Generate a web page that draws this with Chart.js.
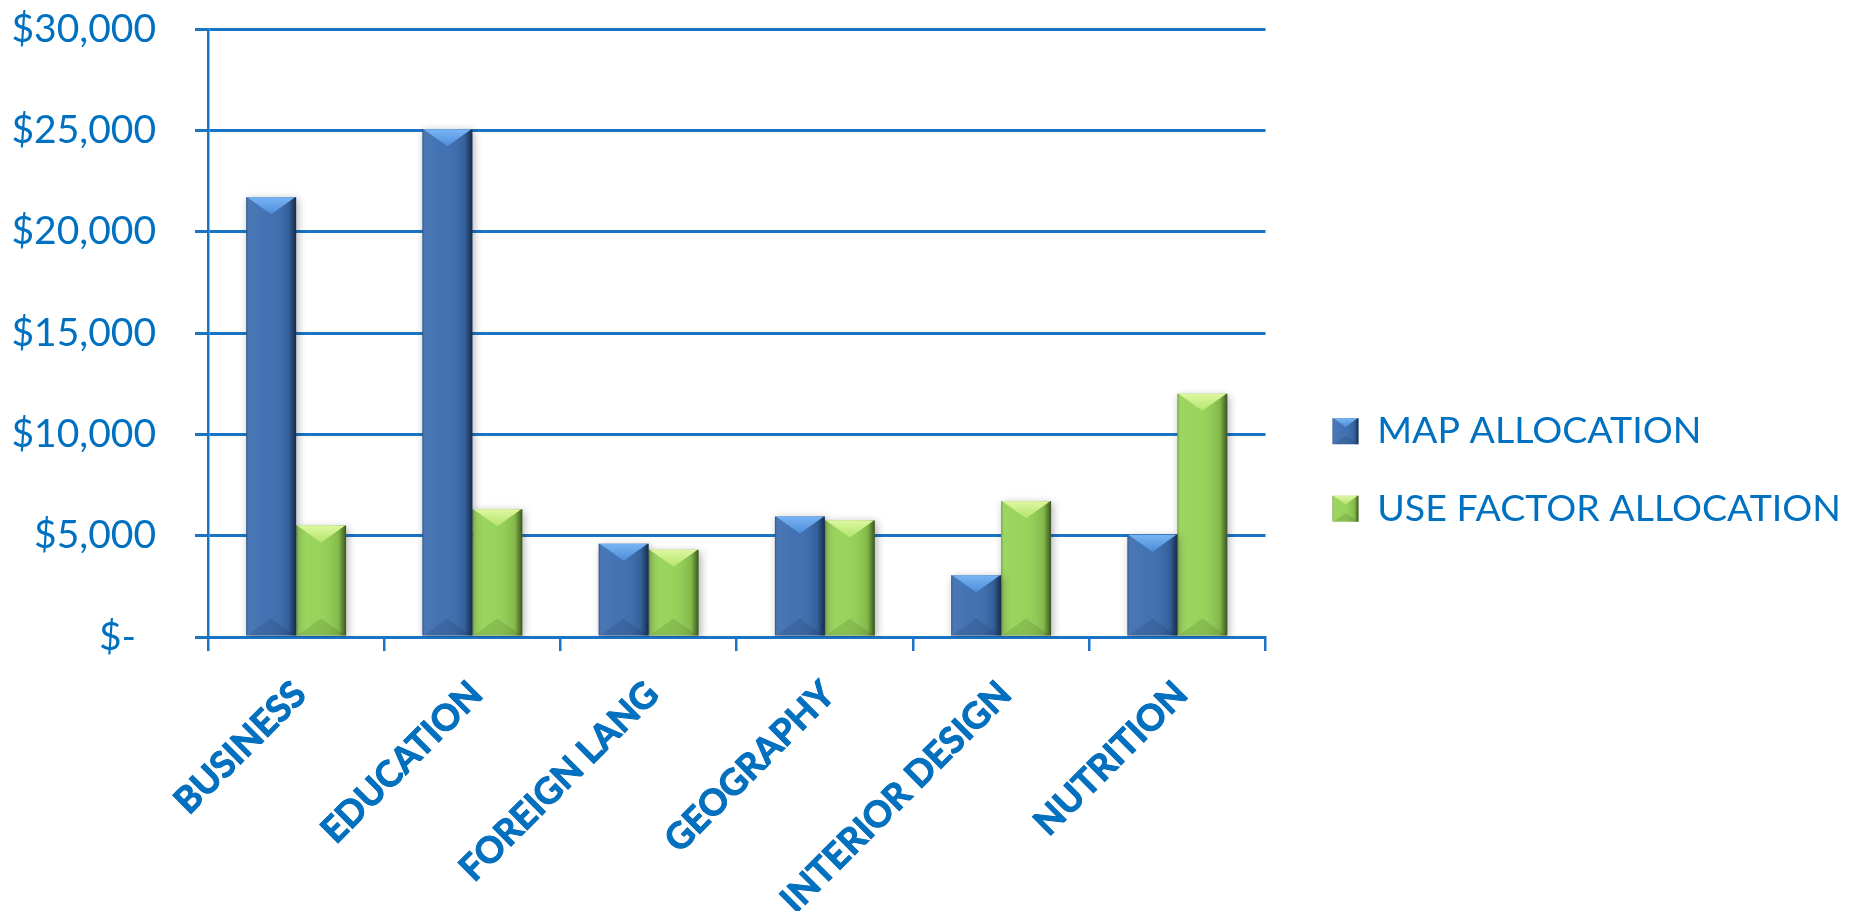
<!DOCTYPE html>
<html>
<head>
<meta charset="utf-8">
<script src="https://cdn.jsdelivr.net/npm/chart.js@4.4.1/dist/chart.umd.min.js"></script>
<style>
  html, body { margin: 0; padding: 0; background: #fff; }
  #wrap { width: 1855px; height: 921px; }
</style>
</head>
<body>
<div id="wrap"><canvas id="myChart" width="1855" height="921"></canvas></div>
<script>
const categories = ['BUSINESS', 'EDUCATION', 'FOREIGN LANG', 'GEOGRAPHY', 'INTERIOR DESIGN', 'NUTRITION'];
const mapAllocation = [21700, 25050, 4600, 5950, 3050, 5050];
const useFactorAllocation = [5500, 6300, 4300, 5750, 6700, 12000];
const seriesNames = ['MAP ALLOCATION', 'USE FACTOR ALLOCATION'];
const yMax = 30000;
const yStep = 5000;

const blue = '#0070C0';
const lineBlue = '#1A74C6';
const bevelColors = [
  { top: '#78B4F4', top2: '#4F8DDA' },
  { top: '#DDF7A0', top2: '#B4E56E' }
];

function fmtDollar(v) {
  if (v === 0) return '$-  ';
  return '$' + v.toLocaleString('en-US');
}

function drawBevel(c, l, t, w, h, col) {
  if (h <= 0) return;
  c.save();
  let g = c.createLinearGradient(l, 0, l + w, 0);
  g.addColorStop(0, 'rgba(0,0,0,0.25)');
  g.addColorStop(0.06, 'rgba(255,255,255,0.08)');
  g.addColorStop(0.45, 'rgba(255,255,255,0.04)');
  g.addColorStop(0.85, 'rgba(0,0,0,0.12)');
  g.addColorStop(1, 'rgba(0,0,0,0.6)');
  c.fillStyle = g;
  c.fillRect(l, t, w, h);

  const d = Math.min(w * 0.34, h / 2, 17);
  let tg = c.createLinearGradient(0, t, 0, t + d);
  tg.addColorStop(0, col.top);
  tg.addColorStop(1, col.top2);
  c.fillStyle = tg;
  c.beginPath();
  c.moveTo(l + 1, t);
  c.lineTo(l + w - 1, t);
  c.lineTo(l + w / 2, t + d);
  c.closePath();
  c.fill();

  c.fillStyle = 'rgba(0,0,0,0.10)';
  c.beginPath();
  c.moveTo(l + 1, t + h);
  c.lineTo(l + w - 1, t + h);
  c.lineTo(l + w / 2, t + h - d);
  c.closePath();
  c.fill();
  c.restore();
}

const bevelPlugin = {
  id: 'bevel',
  beforeDatasetsDraw(chart) {
    const c = chart.ctx;
    c.save();
    c.shadowColor = 'rgba(0,0,0,0.30)';
    c.shadowBlur = 8;
    c.shadowOffsetX = 2;
    c.shadowOffsetY = 2;
  },
  afterDatasetsDraw(chart) {
    const c = chart.ctx;
    c.restore();
    chart.data.datasets.forEach((ds, i) => {
      const meta = chart.getDatasetMeta(i);
      meta.data.forEach(bar => {
        const p = bar.getProps(['x', 'y', 'width', 'base'], true);
        drawBevel(c, p.x - p.width / 2, p.y, p.width, p.base - p.y, bevelColors[i]);
      });
    });
  },
  afterDraw(chart) {
    const lg = chart.legend;
    if (!lg || !lg.legendHitBoxes) return;
    const c = chart.ctx;
    lg.legendHitBoxes.forEach((hb, i) => {
      const bw = 26;
      const top = hb.top + (hb.height - bw) / 2;
      drawBevel(c, hb.left, top, bw, bw, bevelColors[i]);
    });
  }
};

const ctx = document.getElementById('myChart').getContext('2d');
new Chart(ctx, {
  type: 'bar',
  data: {
    labels: categories,
    datasets: [
      {
        label: seriesNames[0],
        data: mapAllocation,
        backgroundColor: '#3A6CB0',
        borderWidth: 0,
        categoryPercentage: 0.567,
        barPercentage: 1.0
      },
      {
        label: seriesNames[1],
        data: useFactorAllocation,
        backgroundColor: '#94D254',
        borderWidth: 0,
        categoryPercentage: 0.567,
        barPercentage: 1.0
      }
    ]
  },
  options: {
    responsive: false,
    animation: false,
    devicePixelRatio: 1,
    layout: { padding: { top: 29, left: 0, right: 4, bottom: 10 } },
    plugins: {
      legend: {
        position: 'right',
        maxWidth: 700,
        labels: {
          color: blue,
          font: { family: 'Lato', size: 37.5 },
          boxWidth: 26,
          boxHeight: 26,
          padding: 40
        }
      },
      tooltip: { enabled: false }
    },
    scales: {
      x: {
        grid: {
          drawOnChartArea: false,
          drawTicks: true,
          tickLength: 14,
          offset: true,
          color: lineBlue,
          lineWidth: 2.5
        },
        border: { display: true, color: lineBlue, width: 3 },
        ticks: {
          color: blue,
          font: { family: 'Lato', size: 36, weight: 'bold' },
          textStrokeColor: '#0062AC',
          textStrokeWidth: 1,
          maxRotation: 45,
          minRotation: 45,
          padding: 22,
          labelOffset: 4
        },
        afterFit(s) { s.height = 274; }
      },
      y: {
        min: 0,
        max: yMax,
        grid: {
          color: lineBlue,
          lineWidth: 3,
          tickLength: 13,
          drawTicks: true
        },
        border: { display: true, color: lineBlue, width: 2.5 },
        ticks: {
          stepSize: yStep,
          color: blue,
          font: { family: 'Lato', size: 39 },
          padding: 39,
          callback: v => fmtDollar(v)
        },
        afterFit(s) {
          s.width = 208;
          s.paddingTop = 0;
          s.paddingBottom = 0;
        }
      },
      gap: {
        position: 'right',
        display: true,
        grid: { display: false, drawTicks: false },
        border: { display: false },
        ticks: { display: false },
        afterFit(s) {
          s.width = 27;
          s.paddingTop = 0;
          s.paddingBottom = 0;
        }
      }
    }
  },
  plugins: [bevelPlugin]
});
</script>
</body>
</html>
